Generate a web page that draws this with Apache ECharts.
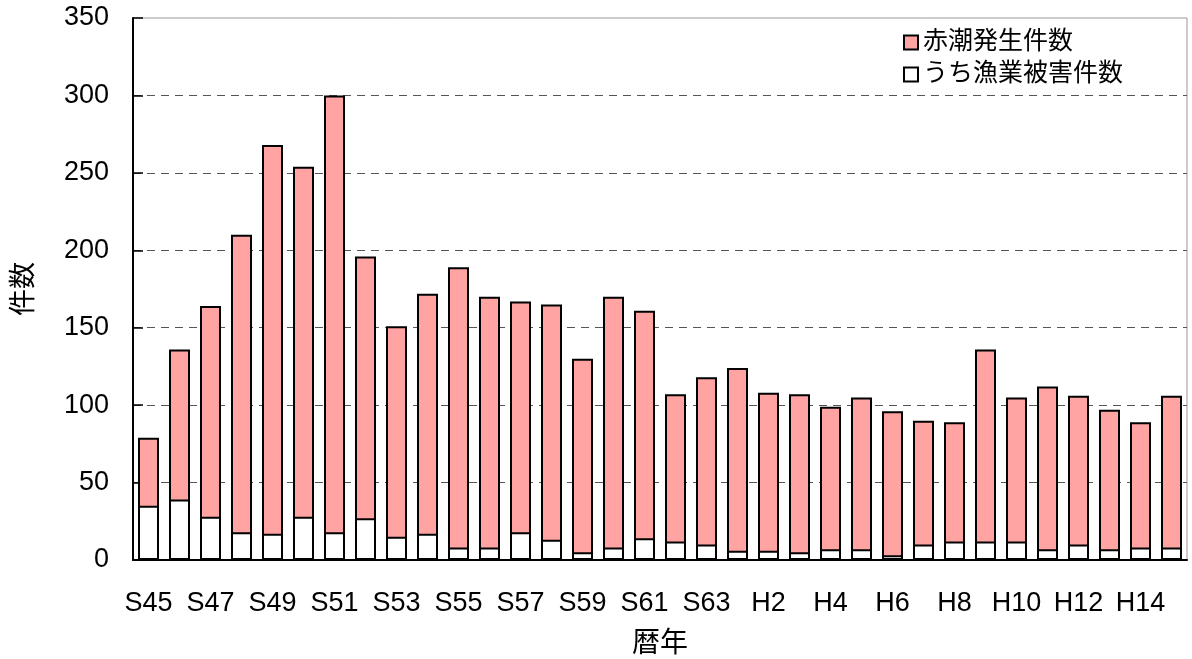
<!DOCTYPE html>
<html>
<head>
<meta charset="utf-8">
<script src="https://cdn.jsdelivr.net/npm/echarts@6/dist/echarts.min.js"></script>
<style>
  html, body { margin: 0; padding: 0; background: #fff; }
  #main { width: 1192px; height: 659px; }
</style>
</head>
<body>
<div id="main"></div>
<script>
// 年（昭和・平成）
var years = ['S45', 'S46', 'S47', 'S48', 'S49', 'S50', 'S51', 'S52', 'S53', 'S54',
  'S55', 'S56', 'S57', 'S58', 'S59', 'S60', 'S61', 'S62', 'S63',
  'H1', 'H2', 'H3', 'H4', 'H5', 'H6', 'H7', 'H8', 'H9', 'H10', 'H11', 'H12', 'H13', 'H14', 'H15'];
// 赤潮発生件数
var redTide = [79, 136, 164, 210, 268, 254, 300, 196, 151, 172,
  189, 170, 167, 165, 130, 170, 161, 107, 118,
  124, 108, 107, 99, 105, 96, 90, 89, 136, 105, 112, 106, 97, 89, 106];
// うち漁業被害件数
var damage = [35, 39, 28, 18, 17, 28, 18, 27, 15, 17,
  8, 8, 18, 13, 5, 8, 14, 12, 10,
  6, 6, 5, 7, 7, 3, 10, 12, 12, 12, 7, 10, 7, 8, 8];
var yTicks = { min: 0, max: 350, interval: 50 };

var chart = echarts.init(document.getElementById('main'), null, { renderer: 'canvas' });
var font = "Arial, 'Liberation Sans', 'Noto Sans CJK JP', sans-serif";

var option = {
  animation: false,
  textStyle: { fontFamily: font },
  grid: {
    left: 133, top: 18, width: 1054, height: 542,
    outerBoundsMode: 'none',
    containLabel: false,
    show: true, borderColor: '#999', borderWidth: 1
  },
  legend: {
    orient: 'vertical',
    left: 898, top: 25,
    itemWidth: 14, itemHeight: 14, itemGap: 7,
    icon: 'rect',
    textStyle: { fontSize: 25, color: '#000', fontFamily: font },
    data: ['赤潮発生件数', 'うち漁業被害件数']
  },
  xAxis: {
    type: 'category',
    data: years,
    name: '暦年',
    nameLocation: 'middle',
    nameGap: 70,
    nameTextStyle: { fontSize: 28, color: '#000' },
    axisLine: { lineStyle: { color: '#000', width: 2 } },
    axisTick: { inside: true, length: 9, lineStyle: { color: '#000', width: 1.5 } },
    axisLabel: { interval: 1, fontSize: 27, color: '#000', margin: 30 }
  },
  yAxis: {
    type: 'value',
    min: yTicks.min, max: yTicks.max, interval: yTicks.interval,
    name: '件数',
    nameLocation: 'middle',
    nameGap: 95,
    nameTextStyle: { fontSize: 27, color: '#000' },
    axisLine: { show: true, lineStyle: { color: '#000', width: 2 } },
    axisTick: { show: true, inside: true, length: 10, lineStyle: { color: '#000', width: 1.5 } },
    axisLabel: { fontSize: 27, color: '#000', margin: 24 },
    splitLine: {
      show: true, showMinLine: false, showMaxLine: false,
      lineStyle: { color: '#555', type: [8, 6], width: 1 }
    }
  },
  series: [
    {
      name: '赤潮発生件数',
      type: 'bar',
      data: redTide,
      barWidth: 21,
      itemStyle: { color: '#ffa3a3', borderColor: '#000', borderWidth: 2 }
    },
    {
      name: 'うち漁業被害件数',
      type: 'bar',
      data: damage,
      barWidth: 21,
      barGap: '-100%',
      itemStyle: { color: '#fff', borderColor: '#000', borderWidth: 2 }
    }
  ]
};
chart.setOption(option);
</script>
</body>
</html>
